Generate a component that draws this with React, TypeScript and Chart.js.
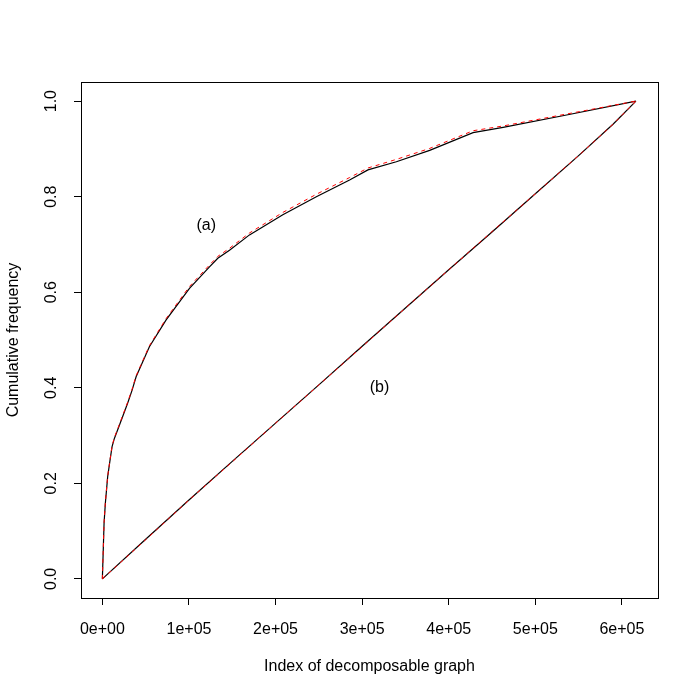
import React, { useEffect, useRef } from 'react';
import { Chart, registerables } from 'chart.js';
Chart.register(...registerables);

// Curve (a)
const aX = [0, 1965, 3470, 6130, 8900, 11200, 13870, 17700, 23470, 29250, 34340, 38960, 54300, 73640, 100600, 123700, 133300, 146800, 169900, 208400, 247100, 285500, 306700, 339500, 378000, 428100, 462800, 536100, 616200];
const aBlack = [0, 0.117, 0.159, 0.214, 0.249, 0.277, 0.294, 0.312, 0.340, 0.368, 0.395, 0.423, 0.486, 0.542, 0.608, 0.653, 0.671, 0.688, 0.720, 0.762, 0.800, 0.835, 0.856, 0.873, 0.897, 0.934, 0.945, 0.971, 1.0];
const aRed = [0, 0.118, 0.160, 0.215, 0.250, 0.278, 0.296, 0.314, 0.342, 0.370, 0.397, 0.425, 0.488, 0.545, 0.612, 0.657, 0.675, 0.692, 0.724, 0.767, 0.805, 0.840, 0.860, 0.878, 0.901, 0.938, 0.948, 0.973, 1.0];

// Curve (b)
const bX = [0, 50000, 100000, 150000, 200000, 250000, 300000, 350000, 400000, 450000, 500000, 550000, 590000, 616200];
const bBlack = [0, 0.083, 0.165, 0.246, 0.326, 0.406, 0.487, 0.567, 0.647, 0.726, 0.806, 0.886, 0.952, 1.0];
const bRed = [0, 0.082, 0.165, 0.245, 0.326, 0.406, 0.486, 0.567, 0.647, 0.727, 0.806, 0.886, 0.952, 1.0];

// Ticks
const xTicks = [0, 100000, 200000, 300000, 400000, 500000, 600000];
const xTickLabels = ['0e+00', '1e+05', '2e+05', '3e+05', '4e+05', '5e+05', '6e+05'];
const yTicks = [0, 0.2, 0.4, 0.6, 0.8, 1.0];
const yTickLabels = ['0.0', '0.2', '0.4', '0.6', '0.8', '1.0'];

// Annotations
const annText = ['(a)', '(b)'];
const annX = [120000, 320000];
const annY = [0.74, 0.40];

const FONT = '"Liberation Sans", Arial, Helvetica, sans-serif';

const toPts = (xs: number[], ys: number[]) => xs.map((x, i) => ({ x, y: ys[i] }));

const framePlugin = {
  id: 'frame',
  afterDraw(chart: any) {
    const { ctx, chartArea, scales } = chart;
    const { left, top, right, bottom } = chartArea;
    ctx.save();
    ctx.strokeStyle = '#000';
    ctx.lineWidth = 1;
    ctx.strokeRect(Math.round(left) + 0.5, Math.round(top) + 0.5, Math.round(right - left), Math.round(bottom - top));
    ctx.font = `16px ${FONT}`;
    ctx.fillStyle = '#000';
    ctx.textAlign = 'center';
    ctx.textBaseline = 'middle';
    annText.forEach((t, i) => {
      ctx.fillText(t, scales.x.getPixelForValue(annX[i]), scales.y.getPixelForValue(annY[i]));
    });
    ctx.restore();
  },
};

export default function App() {
  const ref = useRef<HTMLCanvasElement>(null);
  useEffect(() => {
    if (!ref.current) return;
    const chart = new Chart(ref.current, {
      type: 'scatter',
      data: {
        datasets: [
          { data: toPts(aX, aRed), showLine: true, borderColor: '#ff0000', borderWidth: 1, borderDash: [4, 4], pointRadius: 0, fill: false },
          { data: toPts(bX, bRed), showLine: true, borderColor: '#ff0000', borderWidth: 1, borderDash: [4, 4], pointRadius: 0, fill: false },
          { data: toPts(aX, aBlack), showLine: true, borderColor: '#000000', borderWidth: 1.2, pointRadius: 0, fill: false },
          { data: toPts(bX, bBlack), showLine: true, borderColor: '#000000', borderWidth: 1.2, pointRadius: 0, fill: false },
        ],
      },
      options: {
        responsive: false,
        animation: false,
        events: [],
        layout: { padding: { left: 0, top: 82, right: 42, bottom: 0 } },
        plugins: { legend: { display: false }, tooltip: { enabled: false } },
        scales: {
          x: {
            type: 'linear',
            min: -24680,
            max: 641680,
            afterBuildTicks: (s: any) => { s.ticks = xTicks.map((v) => ({ value: v })); },
            afterFit: (s: any) => { s.height = 102; },
            border: { display: false },
            grid: { drawOnChartArea: false, drawTicks: true, tickLength: 7, color: '#000', lineWidth: 1 },
            ticks: {
              color: '#000',
              font: { family: FONT, size: 16 },
              padding: 15,
              maxRotation: 0,
              minRotation: 0,
              autoSkip: false,
              callback: (_v: any, i: number) => xTickLabels[i],
            },
            title: { display: true, text: 'Index of decomposable graph', color: '#000', font: { family: FONT, size: 16 }, padding: { top: 0, bottom: 24 } },
          },
          y: {
            type: 'linear',
            min: -0.04,
            max: 1.04,
            afterBuildTicks: (s: any) => { s.ticks = yTicks.map((v) => ({ value: v })); },
            afterFit: (s: any) => { s.width = 81; },
            border: { display: false },
            grid: { drawOnChartArea: false, drawTicks: true, tickLength: 7, color: '#000', lineWidth: 1 },
            ticks: {
              color: '#000',
              font: { family: FONT, size: 16 },
              padding: 11,
              minRotation: 90,
              maxRotation: 90,
              crossAlign: 'center',
              autoSkip: false,
              callback: (_v: any, i: number) => yTickLabels[i],
            },
            title: { display: true, text: 'Cumulative frequency', color: '#000', font: { family: FONT, size: 16 }, padding: { top: 4, bottom: 0 } },
          },
        },
      },
      plugins: [framePlugin],
    } as any);
    return () => chart.destroy();
  }, []);
  return (
    <div style={{ position: 'absolute', left: 0, top: 0, width: 700, height: 700, background: '#fff' }}>
      <canvas ref={ref} width={700} height={700} style={{ display: 'block' }} />
    </div>
  );
}
